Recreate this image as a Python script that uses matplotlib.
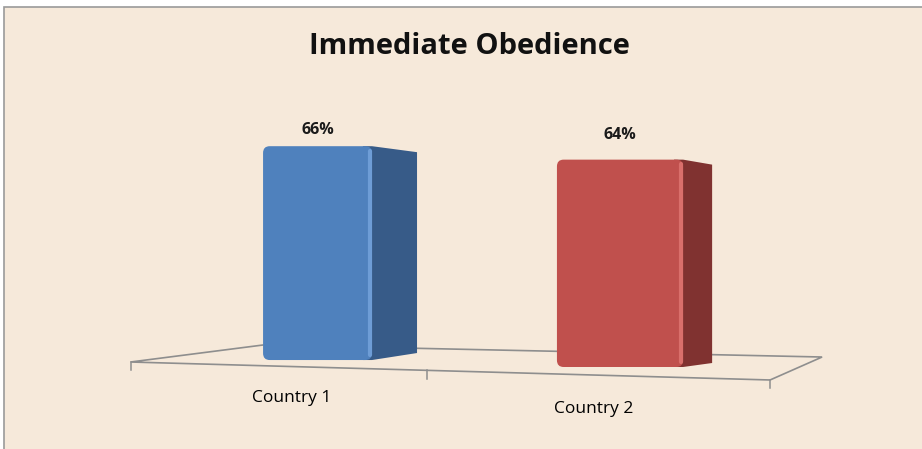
import matplotlib.pyplot as plt
from matplotlib.patches import Polygon, Rectangle, FancyBboxPatch

# data
categories = ["Country 1", "Country 2"]
values = [66, 64]
value_labels = ["66%", "64%"]
title = "Immediate Obedience"

plt.rcParams['font.family'] = ['Open Sans', 'DejaVu Sans']

# fake 3d look: per bar perspective (width, baseline, side depth, side shrink)
widths = [0.36, 0.417]
bottoms = [0.3, -1.85]
depths = [0.149, 0.096]
top_drop = [1.85, 1.54]
bot_rise = [2.16, 1.23]
label_dy = [5.0, 7.6]
front_cols = ['#4F81BD', '#C0504D']
side_cols = ['#375B88', '#803230']
hi_cols = ['#6E9DD6', '#D96F6B']

fig = plt.figure(figsize=(9.22, 4.49), dpi=100)
fig.patch.set_facecolor('white')

ax = fig.add_axes([0, 0, 1, 1])
ax.set_facecolor('none')
ax.set_xlim(-1.0496, 1.9983)
ax.set_ylim(-27.16, 111.42)
ax.axis('off')

# beige chart area with grey border on top/left
ax.add_patch(Rectangle((4 / 922, -0.1), 1.1, 1.1 - 7 / 449,
                       transform=fig.transFigure, facecolor='#F6E9DA',
                       edgecolor='#9A9A9A', linewidth=1.2, zorder=0,
                       clip_on=False))

# floor
floor = [(-0.618, -0.31), (-0.180, 4.94), (1.668, 1.23), (1.496, -5.86)]
ax.add_patch(Polygon(floor, closed=True, facecolor='none', edgecolor='#8E8E8E',
                     linewidth=1.2, zorder=1))
for tx in [-0.618, 0.362, 1.496]:
    ty = -0.31 + (tx + 0.618) * (-5.55 / 2.114)
    ax.plot([tx, tx], [ty, ty - 2.6], color='#8E8E8E', linewidth=1.1, zorder=1)

x = list(range(len(values)))
bars = ax.bar(x, values, width=widths, bottom=bottoms, color=front_cols,
              linewidth=0, zorder=3)

for i, b in enumerate(bars):
    xr = b.get_x() + b.get_width()
    bot = b.get_y()
    top = bot + b.get_height()
    d = depths[i]
    # side face starts a bit under the front so the rounded corners blend in
    side = [(xr - 0.03, bot), (xr, bot), (xr + d, bot + bot_rise[i]),
            (xr + d, top - top_drop[i]), (xr, top), (xr - 0.03, top)]
    ax.add_patch(Polygon(side, closed=True, facecolor=side_cols[i],
                         edgecolor='none', zorder=3))
    # rounded front face in place of the plain rectangle
    b.set_visible(False)
    ax.add_patch(FancyBboxPatch((b.get_x(), bot), b.get_width(), b.get_height(),
                                boxstyle='round,pad=0,rounding_size=0.022',
                                mutation_aspect=95, facecolor=front_cols[i],
                                edgecolor='none', zorder=3.5))
    # light edge between front and side
    ax.plot([xr - 0.008, xr - 0.008], [bot + 1.5, top - 1.5],
            color=hi_cols[i], linewidth=3, zorder=4, solid_capstyle='round')
    ax.text(b.get_x() + b.get_width() / 2, top + label_dy[i], value_labels[i],
            ha='center', va='center', fontsize=11.5, fontweight='bold',
            color='#1A1A1A', zorder=5)

# category labels sit under the slanted floor
cat_x = [-0.084, 0.914]
cat_y = [-11.4, -14.8]
for i, c in enumerate(categories):
    ax.text(cat_x[i], cat_y[i], c, ha='center', va='center', fontsize=12.5,
            color='#000000')

ax.text(469 / 922, 1 - 46 / 449, title, transform=fig.transFigure,
        ha='center', va='center', fontsize=21, fontweight='bold',
        color='#111111')

fig.savefig('out.png', dpi=100, facecolor=fig.get_facecolor())
